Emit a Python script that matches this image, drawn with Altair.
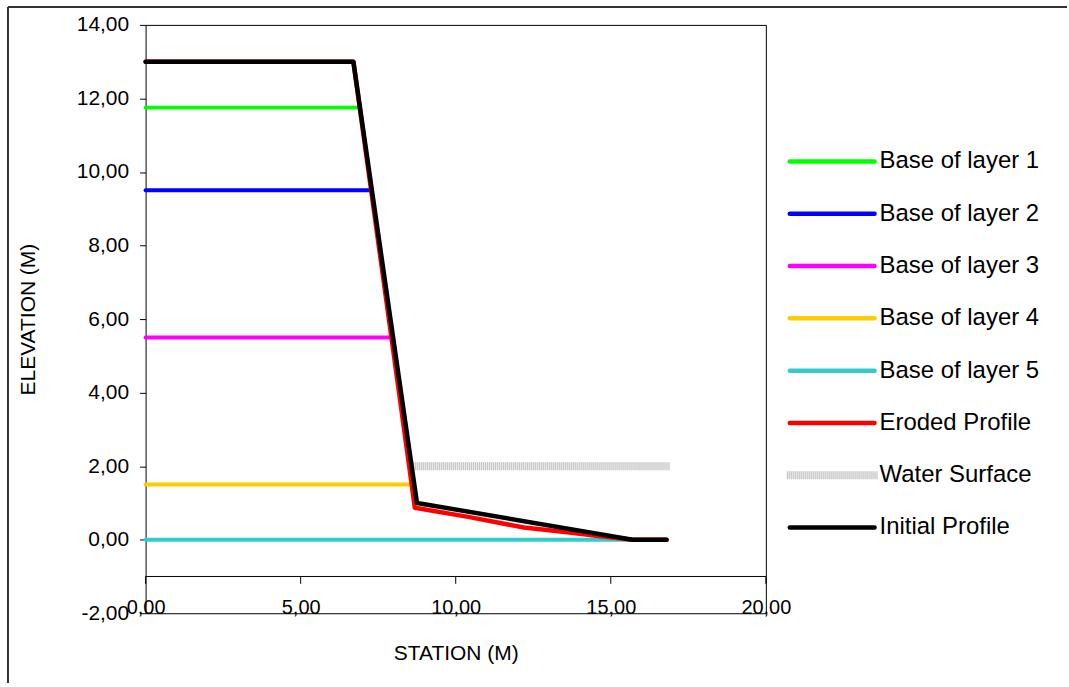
import altair as alt
import pandas as pd

# ---------------- data ----------------
layer_names = ["Base of layer 1", "Base of layer 2", "Base of layer 3",
               "Base of layer 4", "Base of layer 5"]
layer_elev = [11.75, 9.5, 5.5, 1.5, 0.0]
layer_x_end = [6.85, 7.25, 7.95, 8.55, 15.7]
layer_colors = ["#00FF00", "#0000FF", "#FF00FF", "#FFCC00", "#33CCCC"]

initial_x = [0.0, 6.7, 8.75, 15.7, 16.8]
initial_y = [13.0, 13.0, 1.0, 0.0, 0.0]

eroded_x = [0.0, 6.7, 8.5, 8.68, 10.4, 12.2, 13.6, 14.6, 15.7, 16.8]
eroded_y = [13.0, 13.0, 2.0, 0.87, 0.62, 0.33, 0.2, 0.1, 0.0, 0.0]

water_x = [8.5, 16.9]
water_y = [2.0, 2.0]

x_ticks = [0, 5, 10, 15, 20]
y_ticks = [-2, 0, 2, 4, 6, 8, 10, 12, 14]

legend_names = layer_names + ["Eroded Profile", "Water Surface", "Initial Profile"]
legend_colors = layer_colors + ["#FF0000", "#D0D0D0", "#000000"]

FONT = "Liberation Sans"
fmt = "(datum.value < 0 ? '-' : '') + replace(format(abs(datum.value), '.2f'), '.', ',')"

# ---------------- tables ----------------
rows = []
for n, e, xe in zip(layer_names, layer_elev, layer_x_end):
    rows.append({"series": n, "x": 0.0, "y": e, "o": 0})
    rows.append({"series": n, "x": xe, "y": e, "o": 1})
layers_df = pd.DataFrame(rows)
initial_df = pd.DataFrame({"series": "Initial Profile", "x": initial_x, "y": initial_y,
                           "o": list(range(len(initial_x)))})
eroded_df = pd.DataFrame({"series": "Eroded Profile", "x": eroded_x, "y": eroded_y,
                          "o": list(range(len(eroded_x)))})
water_df = pd.DataFrame({"series": "Water Surface", "x": water_x, "y": water_y,
                         "o": [0, 1]})

color_scale = alt.Scale(domain=legend_names, range=legend_colors)

xs = alt.Scale(domain=[0, 20], nice=False)
ys = alt.Scale(domain=[-2, 14], nice=False)

x_enc = alt.X("x:Q", scale=xs, axis=alt.Axis(
    values=x_ticks, labelExpr=fmt, title="STATION (M)", domain=False, ticks=False,
    tickSize=0, grid=False, labelPadding=0, labelBaseline="alphabetic",
    labelFontSize=20, labelColor="black", labelFont=FONT, labelFlush=False,
    titleFontSize=21, titleFont=FONT, titleFontWeight="normal", titleColor="black",
    titlePadding=25))
y_enc = alt.Y("y:Q", scale=ys, axis=alt.Axis(
    values=y_ticks, labelExpr=fmt, title="ELEVATION (M)", domain=False, ticks=True,
    tickSize=6, tickColor="black", grid=False, labelPadding=11,
    labelFontSize=21, labelColor="black", labelFont=FONT,
    titleFontSize=21, titleFont=FONT, titleFontWeight="normal", titleColor="black",
    titlePadding=38))

def line(df, width):
    return alt.Chart(df).mark_line(strokeWidth=width, strokeCap="round",
                                   strokeJoin="round").encode(
        x=x_enc, y=y_enc, order="o:Q", detail="series:N",
        color=alt.Color("series:N", scale=color_scale, legend=None))

layers_ch = line(layers_df, 4)
water_bg = alt.Chart(water_df).mark_line(strokeWidth=8, color="#EDEDED",
                                         strokeCap="butt").encode(x="x:Q", y="y:Q", order="o:Q")
water_fg = alt.Chart(water_df).mark_line(strokeWidth=8, color="#C4C4C4",
                                         strokeCap="butt", strokeDash=[1, 1]).encode(
    x="x:Q", y="y:Q", order="o:Q")
eroded_ch = line(eroded_df, 4.5)
initial_ch = line(initial_df, 4.5)

# x axis line at elevation -1 with its ticks
base_df = pd.DataFrame({"x": [0.0], "x2": [20.0], "y": [-1.0]})
base_rule = alt.Chart(base_df).mark_rule(color="black", strokeWidth=1).encode(
    x="x:Q", x2="x2:Q", y="y:Q")
tick_df = pd.DataFrame({"x": x_ticks, "y": [-1.0] * len(x_ticks), "y2": [-1.2] * len(x_ticks)})
tick_rule = alt.Chart(tick_df).mark_rule(color="black", strokeWidth=1).encode(
    x="x:Q", y="y:Q", y2="y2:Q")

# outer chart frame (top & left edges)
one = pd.DataFrame({"a": [0]})
frame_left = alt.Chart(one).mark_rule(color="#333333", strokeWidth=2).encode(
    x=alt.value(-138), y=alt.value(-18), y2=alt.value(660))
frame_top = alt.Chart(one).mark_rule(color="#333333", strokeWidth=2).encode(
    x=alt.value(-138), x2=alt.value(924), y=alt.value(-18))

main = alt.layer(
    layers_ch, water_bg, water_fg, eroded_ch, initial_ch, base_rule, tick_rule,
    frame_left, frame_top
).properties(width=622, height=590)

# ---------------- legend panel ----------------
leg_df = pd.DataFrame({"name": legend_names, "i": list(range(len(legend_names)))})
ly = alt.Y("i:Q", scale=alt.Scale(domain=[0, len(legend_names) - 1], range=[137, 504]),
           axis=None)
leg_lines = alt.Chart(leg_df).transform_filter(
    alt.datum.name != "Water Surface").mark_rule(strokeWidth=4.5, strokeCap="round").encode(
    x=alt.value(3), x2=alt.value(88), y=ly,
    color=alt.Color("name:N", scale=color_scale, legend=None))
leg_water_bg = alt.Chart(leg_df).transform_filter(
    alt.datum.name == "Water Surface").mark_rule(strokeWidth=8, color="#EDEDED").encode(
    x=alt.value(0), x2=alt.value(91), y=ly)
leg_water_fg = alt.Chart(leg_df).transform_filter(
    alt.datum.name == "Water Surface").mark_rule(strokeWidth=8, color="#C4C4C4",
                                                 strokeDash=[1, 1]).encode(
    x=alt.value(0), x2=alt.value(91), y=ly)
leg_text = alt.Chart(leg_df).mark_text(align="left", baseline="middle", fontSize=24,
                                       font=FONT, color="black").encode(
    x=alt.value(93), y=ly, text="name:N")
legend = alt.layer(leg_lines, leg_water_bg, leg_water_fg, leg_text).properties(
    width=240, height=590, view=alt.ViewBackground(strokeWidth=0))

chart = alt.hconcat(main, legend, spacing=21, bounds="flush").resolve_scale(
    y="independent").properties(
    autosize=alt.AutoSizeParams(type="pad"),
    padding={"left": 6, "top": 4, "right": 0, "bottom": 0},
    background="white",
).configure(font=FONT).configure_view(stroke="black", strokeWidth=1)

chart.save("out.html", embed_options={"renderer": "svg", "actions": False})
